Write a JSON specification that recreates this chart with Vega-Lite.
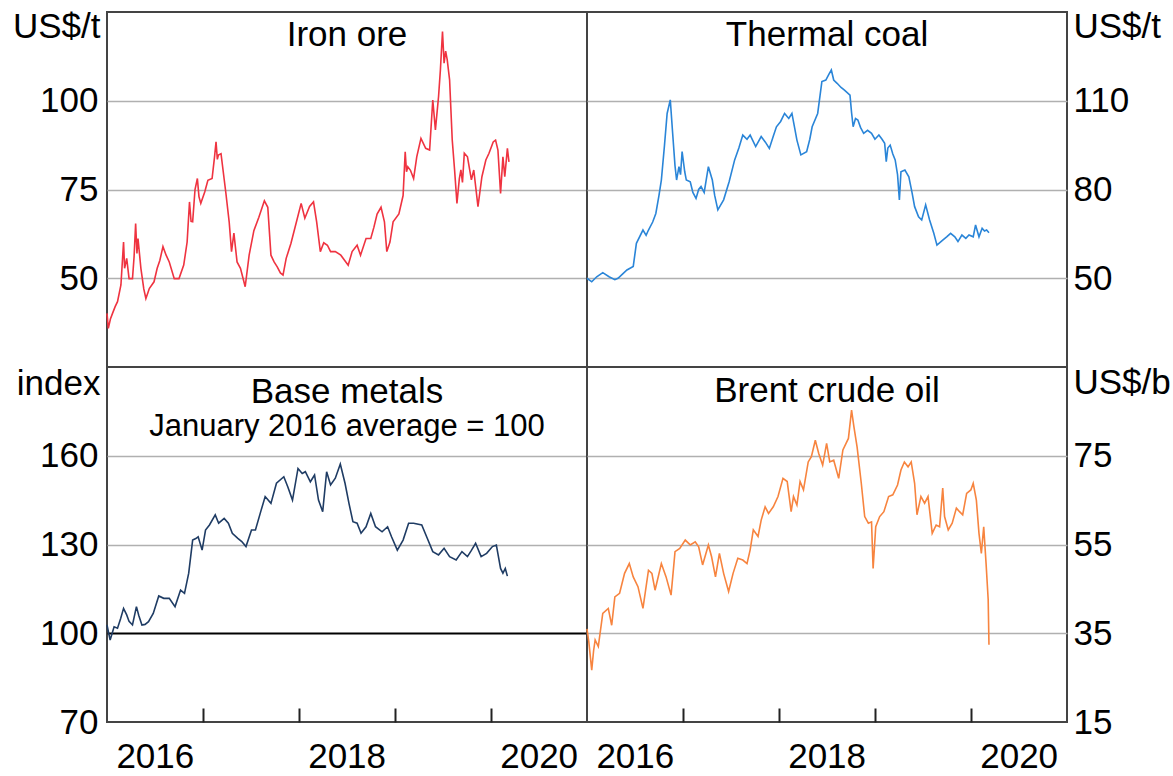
{
  "$schema": "https://vega.github.io/schema/vega-lite/v6.json",
  "padding": {"left": 11, "top": 8, "right": 5, "bottom": 5},
  "background": "#ffffff",
  "datasets": {
    "iron": [
      {"d":"2016-01-01","v":40.1},{"d":"2016-01-06","v":35.9},{"d":"2016-01-14","v":38.5},{"d":"2016-01-22","v":40.1},{"d":"2016-02-01","v":42},{"d":"2016-02-10","v":43.4},{"d":"2016-02-23","v":48.1},{"d":"2016-03-04","v":60.2},{"d":"2016-03-08","v":52.8},{"d":"2016-03-16","v":55.6},{"d":"2016-03-25","v":49.9},{"d":"2016-04-07","v":49.9},{"d":"2016-04-13","v":56},{"d":"2016-04-19","v":65.4},{"d":"2016-04-24","v":57},{"d":"2016-04-28","v":61.2},{"d":"2016-05-09","v":52.8},{"d":"2016-05-20","v":47},{"d":"2016-05-28","v":44.3},{"d":"2016-06-05","v":46},{"d":"2016-06-10","v":47.1},{"d":"2016-06-28","v":49},{"d":"2016-07-10","v":52.8},{"d":"2016-07-20","v":55},{"d":"2016-08-01","v":58.9},{"d":"2016-08-13","v":56.5},{"d":"2016-08-25","v":54.6},{"d":"2016-09-13","v":49.9},{"d":"2016-10-01","v":49.9},{"d":"2016-10-19","v":53.7},{"d":"2016-11-01","v":60.2},{"d":"2016-11-10","v":71.5},{"d":"2016-11-16","v":66},{"d":"2016-11-22","v":65.9},{"d":"2016-12-01","v":75},{"d":"2016-12-10","v":78.1},{"d":"2016-12-16","v":73},{"d":"2016-12-23","v":71.1},
      {"d":"2017-01-07","v":74.3},{"d":"2017-01-19","v":77.6},{"d":"2017-02-04","v":78.1},{"d":"2017-02-13","v":84},{"d":"2017-02-19","v":88.4},{"d":"2017-02-24","v":83.5},{"d":"2017-02-28","v":84.7},{"d":"2017-03-10","v":85.1},{"d":"2017-03-28","v":74.3},{"d":"2017-04-10","v":65.9},{"d":"2017-04-19","v":57.5},{"d":"2017-04-28","v":62.7},{"d":"2017-05-10","v":54.6},{"d":"2017-05-23","v":52.8},{"d":"2017-06-10","v":47.6},{"d":"2017-06-25","v":56.5},{"d":"2017-07-13","v":63.4},{"d":"2017-08-01","v":67.2},{"d":"2017-08-22","v":71.8},{"d":"2017-09-04","v":70},{"d":"2017-09-16","v":56.5},{"d":"2017-09-28","v":54.6},{"d":"2017-10-10","v":53.2},{"d":"2017-10-22","v":51.5},{"d":"2017-11-01","v":50.9},{"d":"2017-11-13","v":55.6},{"d":"2017-12-01","v":59.8},{"d":"2017-12-19","v":65},
      {"d":"2018-01-09","v":71.1},{"d":"2018-01-23","v":66.9},{"d":"2018-02-10","v":70.2},{"d":"2018-02-25","v":71.5},{"d":"2018-03-09","v":65.9},{"d":"2018-03-23","v":57.5},{"d":"2018-04-05","v":60},{"d":"2018-04-19","v":59.3},{"d":"2018-05-01","v":57.5},{"d":"2018-05-19","v":57.5},{"d":"2018-06-09","v":56.5},{"d":"2018-07-07","v":53.7},{"d":"2018-07-22","v":57.5},{"d":"2018-08-10","v":59.3},{"d":"2018-08-23","v":56.5},{"d":"2018-09-13","v":61.2},{"d":"2018-10-01","v":61.2},{"d":"2018-10-13","v":64.4},{"d":"2018-10-25","v":68.1},{"d":"2018-11-09","v":70},{"d":"2018-11-22","v":65.9},{"d":"2018-12-01","v":57.5},{"d":"2018-12-13","v":60.2},{"d":"2018-12-25","v":65.9},
      {"d":"2019-01-16","v":68.1},{"d":"2019-02-01","v":73.3},{"d":"2019-02-09","v":85.6},{"d":"2019-02-14","v":80},{"d":"2019-02-19","v":81.4},{"d":"2019-03-01","v":80.4},{"d":"2019-03-13","v":78.1},{"d":"2019-03-25","v":84.2},{"d":"2019-04-10","v":89.4},{"d":"2019-04-28","v":86.6},{"d":"2019-05-13","v":86.1},{"d":"2019-05-25","v":100.2},{"d":"2019-06-04","v":91.8},{"d":"2019-06-16","v":101.2},{"d":"2019-06-23","v":108.7},{"d":"2019-07-01","v":119.5},{"d":"2019-07-07","v":110.6},{"d":"2019-07-13","v":114},{"d":"2019-07-19","v":111.5},{"d":"2019-07-28","v":105.9},{"d":"2019-08-07","v":89},{"d":"2019-08-16","v":80.5},{"d":"2019-08-25","v":71.1},{"d":"2019-09-03","v":78},{"d":"2019-09-09","v":80.5},{"d":"2019-09-15","v":77},{"d":"2019-09-22","v":85.2},{"d":"2019-10-04","v":84.2},{"d":"2019-10-19","v":77.7},{"d":"2019-10-28","v":80.5},{"d":"2019-11-13","v":70.2},{"d":"2019-11-28","v":78.6},{"d":"2019-12-13","v":83.3},{"d":"2019-12-25","v":85.2},
      {"d":"2020-01-10","v":88.4},{"d":"2020-01-19","v":88.9},{"d":"2020-01-28","v":86.1},{"d":"2020-02-07","v":73.9},{"d":"2020-02-16","v":84.2},{"d":"2020-02-23","v":78.6},{"d":"2020-03-04","v":86.6},{"d":"2020-03-10","v":82.8}
    ],
    "coal": [
      {"d":"2016-01-01","v":50},{"d":"2016-01-19","v":48.8},{"d":"2016-02-07","v":50.5},{"d":"2016-03-01","v":51.9},{"d":"2016-03-25","v":50.5},{"d":"2016-04-16","v":49.5},{"d":"2016-04-28","v":50},{"d":"2016-05-16","v":51.5},{"d":"2016-06-01","v":52.8},{"d":"2016-06-25","v":54},{"d":"2016-07-07","v":61.8},{"d":"2016-08-01","v":66.3},{"d":"2016-08-13","v":64.5},{"d":"2016-08-22","v":66.3},{"d":"2016-09-07","v":69},{"d":"2016-09-19","v":71.9},{"d":"2016-10-01","v":78},{"d":"2016-10-10","v":83.2},{"d":"2016-10-22","v":95},{"d":"2016-11-01","v":105.7},{"d":"2016-11-13","v":110.3},{"d":"2016-11-22","v":99},{"d":"2016-12-01","v":88},{"d":"2016-12-07","v":83.2},{"d":"2016-12-16","v":87.7},{"d":"2016-12-22","v":85},{"d":"2016-12-28","v":92.8},
      {"d":"2017-01-07","v":86},{"d":"2017-01-13","v":83.2},{"d":"2017-01-28","v":82.6},{"d":"2017-02-07","v":79},{"d":"2017-02-19","v":77},{"d":"2017-03-01","v":80},{"d":"2017-03-10","v":81},{"d":"2017-03-22","v":79},{"d":"2017-04-07","v":87.7},{"d":"2017-04-22","v":83.2},{"d":"2017-05-01","v":78},{"d":"2017-05-13","v":73.1},{"d":"2017-06-04","v":76.5},{"d":"2017-06-25","v":82.6},{"d":"2017-07-16","v":90},{"d":"2017-08-01","v":94},{"d":"2017-08-16","v":98.4},{"d":"2017-09-01","v":97},{"d":"2017-09-13","v":98.4},{"d":"2017-10-04","v":94.5},{"d":"2017-10-25","v":97.9},{"d":"2017-11-10","v":96},{"d":"2017-11-25","v":93.9},{"d":"2017-12-10","v":98},{"d":"2017-12-22","v":101.2},
      {"d":"2018-01-07","v":103},{"d":"2018-01-22","v":105.7},{"d":"2018-02-07","v":104},{"d":"2018-02-19","v":105.7},{"d":"2018-03-01","v":101},{"d":"2018-03-10","v":96.7},{"d":"2018-03-25","v":91.7},{"d":"2018-04-16","v":92.8},{"d":"2018-04-28","v":97},{"d":"2018-05-07","v":101.2},{"d":"2018-05-28","v":105.7},{"d":"2018-06-13","v":116.5},{"d":"2018-06-28","v":117},{"d":"2018-07-10","v":119},{"d":"2018-07-19","v":120.4},{"d":"2018-07-28","v":117},{"d":"2018-08-10","v":115.9},{"d":"2018-08-25","v":114.5},{"d":"2018-09-07","v":113.6},{"d":"2018-09-28","v":111.9},{"d":"2018-10-04","v":106},{"d":"2018-10-10","v":101.2},{"d":"2018-10-19","v":104},{"d":"2018-10-28","v":103.5},{"d":"2018-11-07","v":101},{"d":"2018-11-19","v":99},{"d":"2018-12-04","v":100},{"d":"2018-12-19","v":99},
      {"d":"2019-01-01","v":97},{"d":"2019-01-16","v":98.4},{"d":"2019-01-28","v":97},{"d":"2019-02-07","v":95.6},{"d":"2019-02-13","v":89.4},{"d":"2019-02-19","v":94},{"d":"2019-02-28","v":95},{"d":"2019-03-10","v":92},{"d":"2019-03-19","v":90},{"d":"2019-03-28","v":85},{"d":"2019-04-04","v":76.5},{"d":"2019-04-10","v":86},{"d":"2019-04-25","v":86.6},{"d":"2019-05-10","v":84.3},{"d":"2019-05-22","v":79},{"d":"2019-06-01","v":74.2},{"d":"2019-06-16","v":70.8},{"d":"2019-06-28","v":69.7},{"d":"2019-07-13","v":74.8},{"d":"2019-07-28","v":69.7},{"d":"2019-08-13","v":65.2},{"d":"2019-08-25","v":61.2},{"d":"2019-09-16","v":62.9},{"d":"2019-10-01","v":64},{"d":"2019-10-16","v":65.2},{"d":"2019-11-01","v":64},{"d":"2019-11-13","v":62.4},{"d":"2019-11-28","v":64.6},{"d":"2019-12-13","v":63.5},{"d":"2019-12-25","v":64.6},
      {"d":"2020-01-10","v":64},{"d":"2020-01-19","v":68},{"d":"2020-02-01","v":64},{"d":"2020-02-13","v":66.9},{"d":"2020-02-22","v":66},{"d":"2020-03-01","v":66.3},{"d":"2020-03-10","v":65.4}
    ],
    "metals": [
      {"d":"2016-01-01","v":102.8},{"d":"2016-01-13","v":97.7},{"d":"2016-01-28","v":102.2},{"d":"2016-02-10","v":101.7},{"d":"2016-02-22","v":105},{"d":"2016-03-04","v":108.4},{"d":"2016-03-16","v":106.2},{"d":"2016-03-25","v":104},{"d":"2016-04-07","v":102.8},{"d":"2016-04-22","v":109},{"d":"2016-05-01","v":106},{"d":"2016-05-13","v":102.8},{"d":"2016-05-25","v":103},{"d":"2016-06-07","v":103.9},{"d":"2016-06-25","v":106.7},{"d":"2016-07-16","v":112.6},{"d":"2016-08-04","v":111.8},{"d":"2016-08-25","v":111.8},{"d":"2016-09-16","v":109},{"d":"2016-10-07","v":114.6},{"d":"2016-10-22","v":113.5},{"d":"2016-11-07","v":120.3},{"d":"2016-11-22","v":131.5},{"d":"2016-12-04","v":132},{"d":"2016-12-13","v":132.6},{"d":"2016-12-28","v":128.1},
      {"d":"2017-01-10","v":134.9},{"d":"2017-01-25","v":136.6},{"d":"2017-02-16","v":140},{"d":"2017-03-01","v":137.2},{"d":"2017-03-22","v":138.8},{"d":"2017-04-07","v":137.2},{"d":"2017-04-22","v":133.8},{"d":"2017-05-13","v":132.1},{"d":"2017-05-28","v":131},{"d":"2017-06-13","v":129.3},{"d":"2017-07-04","v":134.9},{"d":"2017-07-19","v":134.9},{"d":"2017-08-10","v":141.7},{"d":"2017-08-25","v":146.2},{"d":"2017-09-16","v":143.9},{"d":"2017-10-07","v":150.7},{"d":"2017-11-04","v":152.9},{"d":"2017-11-19","v":149.5},{"d":"2017-12-07","v":145},{"d":"2017-12-28","v":155.7},
      {"d":"2018-01-13","v":154},{"d":"2018-01-25","v":154.6},{"d":"2018-02-13","v":151.2},{"d":"2018-03-01","v":153.5},{"d":"2018-03-16","v":145},{"d":"2018-04-01","v":141.1},{"d":"2018-04-16","v":154.6},{"d":"2018-05-01","v":150.1},{"d":"2018-05-19","v":152.4},{"d":"2018-06-07","v":157.2},{"d":"2018-06-25","v":150.7},{"d":"2018-07-10","v":143.9},{"d":"2018-07-25","v":137.7},{"d":"2018-08-10","v":137.2},{"d":"2018-08-25","v":133.8},{"d":"2018-09-13","v":136},{"d":"2018-10-01","v":140.5},{"d":"2018-10-19","v":136},{"d":"2018-11-13","v":134.3},{"d":"2018-12-04","v":136},{"d":"2018-12-19","v":132.6},
      {"d":"2019-01-10","v":128.1},{"d":"2019-02-01","v":131.5},{"d":"2019-02-22","v":137.2},{"d":"2019-03-13","v":137.2},{"d":"2019-04-13","v":136.6},{"d":"2019-05-04","v":132.1},{"d":"2019-05-25","v":127.6},{"d":"2019-06-16","v":126.5},{"d":"2019-07-07","v":128.7},{"d":"2019-07-28","v":125.9},{"d":"2019-08-22","v":124.8},{"d":"2019-09-13","v":127.6},{"d":"2019-10-04","v":125.9},{"d":"2019-10-19","v":128},{"d":"2019-11-04","v":130.4},{"d":"2019-11-25","v":125.9},{"d":"2019-12-16","v":127},
      {"d":"2020-01-07","v":129.3},{"d":"2020-01-22","v":129.8},{"d":"2020-02-07","v":121.9},{"d":"2020-02-16","v":120.3},{"d":"2020-02-25","v":121.9},{"d":"2020-03-04","v":119.3}
    ],
    "brent": [
      {"d":"2016-01-01","v":36},{"d":"2016-01-08","v":33},{"d":"2016-01-19","v":26.7},{"d":"2016-01-26","v":31},{"d":"2016-02-01","v":33.5},{"d":"2016-02-13","v":32},{"d":"2016-03-01","v":39.5},{"d":"2016-03-22","v":40.6},{"d":"2016-04-04","v":36.8},{"d":"2016-04-16","v":43.2},{"d":"2016-05-04","v":44},{"d":"2016-05-23","v":48.5},{"d":"2016-06-10","v":50.7},{"d":"2016-06-25","v":47.7},{"d":"2016-07-13","v":45.5},{"d":"2016-08-01","v":40.6},{"d":"2016-08-22","v":49.2},{"d":"2016-09-04","v":48.5},{"d":"2016-09-16","v":44.7},{"d":"2016-10-10","v":50.7},{"d":"2016-10-28","v":47.7},{"d":"2016-11-16","v":43.6},{"d":"2016-12-01","v":53.4},{"d":"2016-12-19","v":54.1},
      {"d":"2017-01-09","v":56},{"d":"2017-01-28","v":54.9},{"d":"2017-02-16","v":55.6},{"d":"2017-03-01","v":54.5},{"d":"2017-03-16","v":50.4},{"d":"2017-04-07","v":54.9},{"d":"2017-04-19","v":52.3},{"d":"2017-05-04","v":47.7},{"d":"2017-05-19","v":53},{"d":"2017-06-04","v":48.5},{"d":"2017-06-23","v":44.4},{"d":"2017-07-10","v":48.5},{"d":"2017-07-28","v":51.9},{"d":"2017-08-16","v":51.5},{"d":"2017-09-01","v":50.7},{"d":"2017-09-13","v":53.8},{"d":"2017-09-25","v":58.3},{"d":"2017-10-13","v":56.8},{"d":"2017-10-25","v":60.5},{"d":"2017-11-09","v":63.5},{"d":"2017-11-22","v":62},{"d":"2017-12-10","v":63.5},{"d":"2017-12-28","v":65.8},
      {"d":"2018-01-16","v":69.9},{"d":"2018-02-01","v":69.2},{"d":"2018-02-16","v":62.4},{"d":"2018-02-25","v":65.8},{"d":"2018-03-10","v":63.9},{"d":"2018-03-22","v":69.2},{"d":"2018-04-04","v":67.3},{"d":"2018-04-22","v":73.6},{"d":"2018-05-04","v":74.8},{"d":"2018-05-19","v":78.5},{"d":"2018-06-01","v":75.5},{"d":"2018-06-16","v":72.9},{"d":"2018-07-01","v":77.8},{"d":"2018-07-13","v":73.6},{"d":"2018-07-28","v":74},{"d":"2018-08-16","v":69.9},{"d":"2018-09-01","v":76.3},{"d":"2018-09-22","v":78.9},{"d":"2018-10-04","v":85.3},{"d":"2018-10-13","v":81.5},{"d":"2018-10-25","v":77},{"d":"2018-11-10","v":68.8},{"d":"2018-11-23","v":61.3},{"d":"2018-12-07","v":59.8},{"d":"2018-12-19","v":60.1},{"d":"2018-12-25","v":49.6},
      {"d":"2019-01-04","v":59},{"d":"2019-01-19","v":61.3},{"d":"2019-02-04","v":62.4},{"d":"2019-02-22","v":65.8},{"d":"2019-03-10","v":66.2},{"d":"2019-03-28","v":68.4},{"d":"2019-04-10","v":71.8},{"d":"2019-04-23","v":73.6},{"d":"2019-05-07","v":72.5},{"d":"2019-05-19","v":73.6},{"d":"2019-06-01","v":68.8},{"d":"2019-06-10","v":61.7},{"d":"2019-06-25","v":65.8},{"d":"2019-07-09","v":64.3},{"d":"2019-07-22","v":65.8},{"d":"2019-08-07","v":57.5},{"d":"2019-08-22","v":59.4},{"d":"2019-09-04","v":59},{"d":"2019-09-16","v":67.7},{"d":"2019-09-23","v":61.3},{"d":"2019-10-07","v":58.3},{"d":"2019-10-22","v":59.8},{"d":"2019-11-07","v":63.2},{"d":"2019-11-19","v":62.4},{"d":"2019-12-01","v":61.7},{"d":"2019-12-16","v":66.5},
      {"d":"2020-01-01","v":67.3},{"d":"2020-01-10","v":68.8},{"d":"2020-01-22","v":65},{"d":"2020-02-01","v":57.5},{"d":"2020-02-10","v":53},{"d":"2020-02-19","v":59},{"d":"2020-02-28","v":50.7},{"d":"2020-03-07","v":42.6},{"d":"2020-03-10","v":32.4}
    ]
  },
  "columns": 2,
  "spacing": 0,
  "bounds": "flush",
  "concat": [
    {
      "width": 480, "height": 355,
      "data": {"name": "iron"},
      "title": {"text": "Iron ore", "offset": -44},
      "mark": {"type": "line", "color": "#ef3340", "strokeWidth": 1.6},
      "encoding": {
        "x": {"field": "d", "type": "temporal", "scale": {"type": "utc", "domain": [{"year": 2016, "month": 1, "date": 1, "utc": true}, {"year": 2021, "month": 1, "date": 1, "utc": true}]}, "axis": null},
        "y": {"field": "v", "type": "quantitative", "scale": {"domain": [25, 125], "nice": false, "zero": false},
          "axis": {"orient": "left", "values": [50, 75, 100], "title": "US$/t", "titleAlign": "right", "titleX": -7, "titleY": 25}}
      }
    },
    {
      "width": 480, "height": 355,
      "data": {"name": "coal"},
      "title": {"text": "Thermal coal", "offset": -44},
      "mark": {"type": "line", "color": "#2a85d8", "strokeWidth": 1.6},
      "encoding": {
        "x": {"field": "d", "type": "temporal", "scale": {"type": "utc", "domain": [{"year": 2016, "month": 1, "date": 1, "utc": true}, {"year": 2021, "month": 1, "date": 1, "utc": true}]}, "axis": null},
        "y": {"field": "v", "type": "quantitative", "scale": {"domain": [20, 140], "nice": false, "zero": false},
          "axis": {"orient": "right", "values": [50, 80, 110], "title": "US$/t", "titleAlign": "left", "titleX": 6, "titleY": 25, "labelPadding": 6}}
      }
    },
    {
      "width": 480, "height": 355,
      "data": {"name": "metals"},
      "title": {"text": "Base metals", "subtitle": "January 2016 average = 100", "offset": -76, "subtitlePadding": 2},
      "mark": {"type": "line", "color": "#1f3c64", "strokeWidth": 1.6},
      "encoding": {
        "x": {"field": "d", "type": "temporal", "scale": {"type": "utc", "domain": [{"year": 2016, "month": 1, "date": 1, "utc": true}, {"year": 2021, "month": 1, "date": 1, "utc": true}]},
          "axis": {"title": null, "values": [{"year": 2016, "month": 7, "date": 1, "utc": true}, {"year": 2017, "month": 1, "date": 1, "utc": true}, {"year": 2018, "month": 1, "date": 1, "utc": true}, {"year": 2018, "month": 7, "date": 1, "utc": true}, {"year": 2019, "month": 1, "date": 1, "utc": true}, {"year": 2020, "month": 1, "date": 1, "utc": true}, {"year": 2020, "month": 7, "date": 1, "utc": true}],
            "labelExpr": "utcmonth(datum.value) == 6 ? utcFormat(datum.value, '%Y') : ''",
            "tickOpacity": {"condition": {"test": "utcmonth(datum.value) == 0", "value": 1}, "value": 0}}},
        "y": {"field": "v", "type": "quantitative", "scale": {"domain": [70, 190], "nice": false, "zero": false},
          "axis": {"orient": "left", "values": [70, 100, 130, 160], "title": "index", "titleAlign": "right", "titleX": -7, "titleY": 27,
            "gridColor": {"condition": {"test": "datum.value == 100", "value": "#000000"}, "value": "#b0b0b0"},
            "gridWidth": {"condition": {"test": "datum.value == 100", "value": 2}, "value": 1.3},
            "gridOpacity": {"condition": {"test": "datum.value == 70", "value": 0}, "value": 1}}}
      }
    },
    {
      "width": 480, "height": 355,
      "data": {"name": "brent"},
      "title": {"text": "Brent crude oil", "offset": -44},
      "mark": {"type": "line", "color": "#f7843f", "strokeWidth": 1.6},
      "encoding": {
        "x": {"field": "d", "type": "temporal", "scale": {"type": "utc", "domain": [{"year": 2016, "month": 1, "date": 1, "utc": true}, {"year": 2021, "month": 1, "date": 1, "utc": true}]},
          "axis": {"title": null, "values": [{"year": 2016, "month": 7, "date": 1, "utc": true}, {"year": 2017, "month": 1, "date": 1, "utc": true}, {"year": 2018, "month": 1, "date": 1, "utc": true}, {"year": 2018, "month": 7, "date": 1, "utc": true}, {"year": 2019, "month": 1, "date": 1, "utc": true}, {"year": 2020, "month": 1, "date": 1, "utc": true}, {"year": 2020, "month": 7, "date": 1, "utc": true}],
            "labelExpr": "utcmonth(datum.value) == 6 ? utcFormat(datum.value, '%Y') : ''",
            "tickOpacity": {"condition": {"test": "utcmonth(datum.value) == 0", "value": 1}, "value": 0}}},
        "y": {"field": "v", "type": "quantitative", "scale": {"domain": [15, 95], "nice": false, "zero": false},
          "axis": {"orient": "right", "values": [15, 35, 55, 75], "title": "US$/b", "titleAlign": "left", "titleX": 6, "titleY": 26, "labelPadding": 6,
            "gridOpacity": {"condition": {"test": "datum.value == 15", "value": 0}, "value": 1}}}
      }
    }
  ],
  "config": {
    "font": "Liberation Sans",
    "view": {"stroke": "#444444", "strokeWidth": 2},
    "axis": {
      "labelFont": "Liberation Sans", "labelFontSize": 35, "labelColor": "#000000",
      "titleFont": "Liberation Sans", "titleFontSize": 35, "titleColor": "#000000", "titleFontWeight": "normal",
      "titleAngle": 0, "titleBaseline": "alphabetic",
      "domain": false, "labelOverlap": false, "labelFlush": false, "labelBound": false
    },
    "axisY": {"ticks": false, "grid": true, "gridColor": "#b0b0b0", "gridWidth": 1.3, "labelPadding": 9},
    "axisX": {"grid": false, "ticks": true, "tickSize": -14, "tickColor": "#222222", "tickWidth": 2, "labelPadding": 31, "labelBaseline": "top", "labelAlign": "center"},
    "title": {
      "font": "Liberation Sans", "fontSize": 35, "fontWeight": "normal", "color": "#000000",
      "frame": "group", "anchor": "middle", "baseline": "top",
      "subtitleFont": "Liberation Sans", "subtitleFontSize": 31, "subtitleColor": "#000000"
    }
  }
}
